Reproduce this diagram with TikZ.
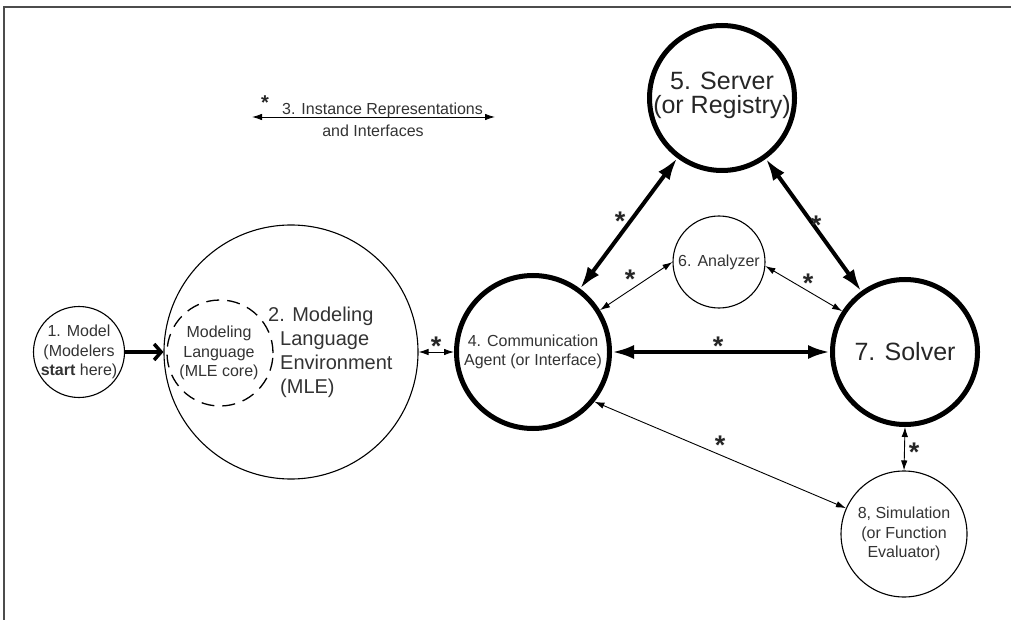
\documentclass[tikz,border=0pt]{standalone}
\usepackage{fontspec}
\setmainfont{Liberation Sans}
\usetikzlibrary{arrows.meta}
\begin{document}
\begin{tikzpicture}[x=1pt,y=-1pt,
  txt/.style={text=black!80, font=\fontsize{16}{19.5}\selectfont, align=center, inner sep=0pt},
  bigtxt/.style={text=black!85, font=\fontsize{25}{24}\selectfont, align=center, inner sep=0pt},
  thinc/.style={circle, draw, line width=1.1pt, inner sep=0pt},
  boldc/.style={circle, draw, line width=5pt, inner sep=0pt},
  thinarr/.style={line width=0.9pt, {Latex[length=10pt,width=6.5pt]}-{Latex[length=10pt,width=6.5pt]}},
  boldarr/.style={line width=4pt, {Latex[length=22pt,width=14pt]}-{Latex[length=22pt,width=14pt]}},
  astk/.style={text=black!85, font=\fontsize{27}{27}\selectfont\bfseries, inner sep=0pt, anchor=north},
]
\useasboundingbox (0,0) rectangle (1011,620);

% frame lines (top and left)
\draw[black!70, line width=1.5pt] (4,620) -- (4,7) -- (1011,7);

% components
\node[thinc, minimum size=91pt]  (model) at (79,352) {};
\node[thinc, minimum size=254pt] (mle)   at (291,352) {};
\node[circle, draw, dash pattern=on 13pt off 8pt, line width=1.3pt,
      minimum size=106pt, inner sep=0pt] (core) at (220,353) {};
\node[boldc, minimum size=153pt] (comm)   at (533,352) {};
\node[boldc, minimum size=145pt] (server) at (722,98) {};
\node[thinc, minimum size=92pt]  (ana)    at (719,262) {};
\node[boldc, minimum size=145pt] (solver) at (905,352) {};
\node[thinc, minimum size=126pt] (sim)    at (904,534) {};

% labels
\node[txt] (modeltxt) at (model) {1. Model\\(Modelers\\\textbf{start} here)};
\node[txt] (coretxt) at (219,353) {Modeling\\Language\\(MLE core)};
\node[txt, font=\fontsize{20}{24}\selectfont, align=left, anchor=west] (mletxt) at (280,352)
  {\hspace*{-12pt}2. Modeling\\Language\\Environment\\(MLE)};
\node[txt] (commtxt) at (comm) {4. Communication\\Agent (or Interface)};
\node[bigtxt] (servertxt) at (722,95) {5. Server\\(or Registry)};
\node[txt] (anatxt) at (ana) {6. Analyzer};
\node[bigtxt] (solvertxt) at (solver) {7. Solver};
\node[txt] (simtxt) at (sim) {8, Simulation\\(or Function\\Evaluator)};

% legend
\coordinate (legL) at (252,117);
\coordinate (legR) at (495,117);
\draw[thinarr] (legL) -- (legR);
\node[txt, anchor=base west] (legtxt1) at (282,115) {3. Instance Representations};
\node[txt, anchor=base] (legtxt2) at (373,137) {and Interfaces};
\node[astk, font=\fontsize{20}{20}\selectfont\bfseries] (legstar) at (265,96) {*};

% connectors
\draw[line width=3.5pt, -{Straight Barb[length=7pt,width=16pt]}] (model) -- (mle);
\draw[thinarr] (mle) -- (comm);
\draw[boldarr] (comm) -- (server);
\draw[boldarr] (comm) -- (solver);
\draw[boldarr] (server) -- (solver);
\draw[thinarr] (comm.32) -- (ana.180);
\draw[thinarr] (ana.-5) -- (solver.147);
\draw[thinarr] (comm.-39) -- (sim.156);
\draw[thinarr] (solver.south) -- (sim.north);

% interface marks
\node[astk] (s1) at (436,337) {*};
\node[astk] (s2) at (620,212) {*};
\node[astk] (s3) at (630,270) {*};
\node[astk] (s4) at (718,337) {*};
\node[astk] (s5) at (816,216) {*};
\node[astk] (s6) at (808,274) {*};
\node[astk] (s7) at (720,436) {*};
\node[astk] (s8) at (914,443) {*};
\end{tikzpicture}
\end{document}
